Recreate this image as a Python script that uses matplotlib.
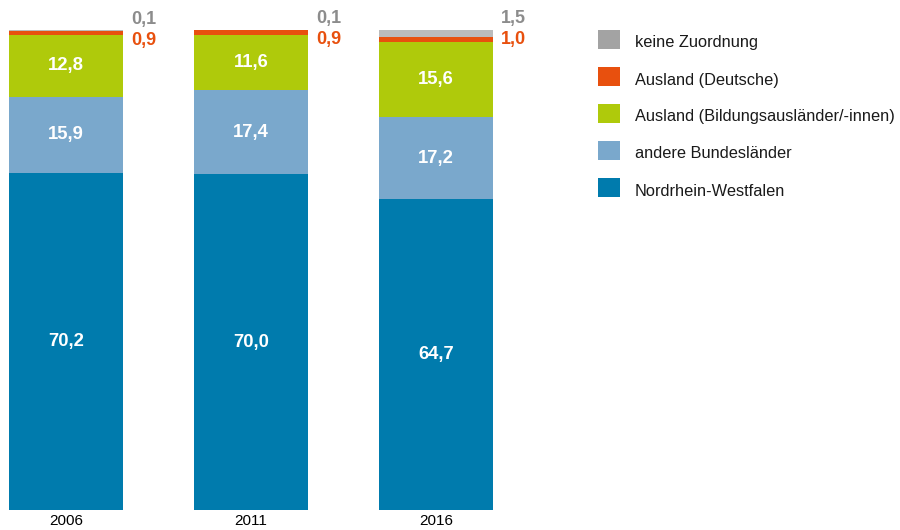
import matplotlib
matplotlib.use("Agg")
import matplotlib.pyplot as plt
from matplotlib.patches import Rectangle

plt.rcParams['font.family'] = ['Liberation Sans', 'DejaVu Sans']

years = ["2006", "2011", "2016"]
nrw = [70.2, 70.0, 64.7]
andere = [15.9, 17.4, 17.2]
ausland_bild = [12.8, 11.6, 15.6]
ausland_dt = [0.9, 0.9, 1.0]
keine = [0.1, 0.1, 1.5]

series = [nrw, andere, ausland_bild, ausland_dt, keine]
names = ["Nordrhein-Westfalen", "andere Bundesländer",
         "Ausland (Bildungsausländer/-innen)", "Ausland (Deutsche)",
         "keine Zuordnung"]
colors = ["#007bad", "#7aa8cc", "#afca0b", "#e8500e", "#bbbbbb"]
legend_colors = ["#007bad", "#7aa8cc", "#afca0b", "#e8500e", "#a3a3a3"]

W, H = 900, 530
fig = plt.figure(figsize=(W / 100, H / 100), dpi=100)
ax = fig.add_axes([0, (H - 510) / H, 560 / W, 480 / H])

x = list(range(len(years)))
bottom = [0.0] * len(years)
for vals, col in zip(series, colors):
    ax.bar(x, vals, width=0.616, bottom=bottom, color=col, linewidth=0)
    for i, v in enumerate(vals):
        if v >= 5:
            ax.text(i, bottom[i] + v / 2, f"{v:.1f}".replace(".", ","),
                    ha="center", va="center", color="white",
                    fontsize=13.3, fontweight="bold")
    bottom = [b + v for b, v in zip(bottom, vals)]

for i in x:
    top = bottom[i]
    ax.text(i + 0.35, top + 2.3, f"{keine[i]:.1f}".replace(".", ","),
            ha="left", va="center", color="#8c8c8c", fontsize=13,
            fontweight="bold")
    ax.text(i + 0.35, top - 2.0, f"{ausland_dt[i]:.1f}".replace(".", ","),
            ha="left", va="center", color="#e8500e", fontsize=13,
            fontweight="bold")

ax.set_xlim(-66 / 185, (560 - 66) / 185)
ax.set_ylim(0, 100)
ax.set_xticks(x)
ax.set_xticklabels(years, fontsize=11)
ax.tick_params(axis="x", length=0, pad=3)
ax.set_yticks([])
for s in ax.spines.values():
    s.set_visible(False)

# legend
lax = fig.add_axes([0, 0, 1, 1])
lax.set_xlim(0, W)
lax.set_ylim(H, 0)
lax.axis("off")
leg_y0, leg_dy = 43, 37
for k, idx in enumerate(range(len(names) - 1, -1, -1)):
    yc = leg_y0 + k * leg_dy
    lax.add_patch(Rectangle((598, yc - 13), 22, 19, color=legend_colors[idx],
                            linewidth=0))
    lax.text(635, yc, names[idx], ha="left", va="center", fontsize=11.8,
             color="#1a1a1a")

fig.savefig("out.png", dpi=100)
